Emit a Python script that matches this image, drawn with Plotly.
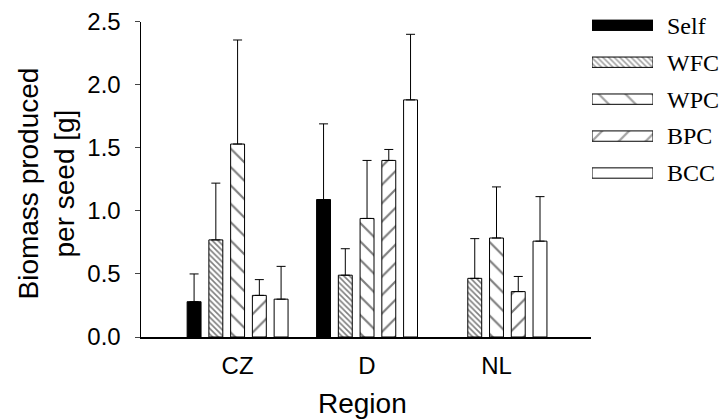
import plotly.graph_objects as go

# Biomass per seed by region and pollination treatment (mean + upper SE)
regions = ["CZ", "D", "NL"]
treatments = ["Self", "WFC", "WPC", "BPC", "BCC"]

means = {
    "Self": [0.28, 1.09, None],
    "WFC": [0.77, 0.49, 0.465],
    "WPC": [1.53, 0.94, 0.785],
    "BPC": [0.33, 1.40, 0.36],
    "BCC": [0.30, 1.88, 0.76],
}
errors = {
    "Self": [0.22, 0.60, None],
    "WFC": [0.45, 0.21, 0.315],
    "WPC": [0.825, 0.46, 0.405],
    "BPC": [0.125, 0.087, 0.12],
    "BCC": [0.26, 0.52, 0.353],
}

y_ticks = [0.0, 0.5, 1.0, 1.5, 2.0, 2.5]

# fill style per treatment: (fill colour, hatch shape, hatch size, hatch solidity)
styles = {
    "Self": ("black", "", 8, 0.2),
    "WFC": ("white", "\\", 4, 0.4),
    "WPC": ("white", "\\", 13, 0.17),
    "BPC": ("white", "/", 13, 0.17),
    "BCC": ("white", "", 8, 0.2),
}
legend_sizes = [8, 4, 19, 19, 8]
legend_solidity = [0.2, 0.4, 0.12, 0.12, 0.2]

W, H = 726, 419
AXIS_FONT = "Arial, Liberation Sans, sans-serif"
SERIF = "Times New Roman, Liberation Serif, serif"

fig = go.Figure()

for t in treatments:
    color, shape, size, solid = styles[t]
    err = [0 if e is None else e for e in errors[t]]
    fig.add_trace(go.Bar(
        x=regions,
        y=means[t],
        name=t,
        marker=dict(
            color=color,
            line=dict(color="black", width=1),
            pattern=dict(shape=shape, size=size, solidity=solid,
                         fgcolor="black", bgcolor=color),
        ),
        error_y=dict(type="data", array=err, arrayminus=[0] * len(err),
                     symmetric=False, color="black", thickness=1, width=4.5),
        showlegend=False,
        xaxis="x", yaxis="y",
    ))

# key drawn as a small horizontal bar panel with the same fills
fig.add_trace(go.Bar(
    y=treatments,
    x=[1] * len(treatments),
    orientation="h",
    width=0.28,
    marker=dict(
        color=[styles[t][0] for t in treatments],
        line=dict(color="black", width=1),
        pattern=dict(shape=[styles[t][1] for t in treatments],
                     size=legend_sizes, solidity=legend_solidity,
                     fgcolor="black",
                     bgcolor=[styles[t][0] for t in treatments]),
    ),
    showlegend=False,
    hoverinfo="skip",
    xaxis="x2", yaxis="y2",
))

fig.update_layout(
    width=W, height=H,
    margin=dict(l=0, r=0, t=0, b=0),
    paper_bgcolor="white",
    plot_bgcolor="white",
    barmode="group",
    bargap=0.16,
    bargroupgap=0.36,
    xaxis=dict(
        domain=[140.5 / W, 591 / W],
        type="category",
        range=[-0.75, 2.73],
        showline=True, linecolor="black", linewidth=2,
        ticks="", showgrid=False, zeroline=False,
        tickfont=dict(family=AXIS_FONT, size=24, color="black"),
        ticklabelstandoff=6,
        automargin=False,
        anchor="y",
    ),
    yaxis=dict(
        domain=[1 - 337 / H, 1 - 21.7 / H],
        range=[0, 2.5],
        tickvals=y_ticks,
        ticktext=[f"{v:.1f}" for v in y_ticks],
        showline=True, linecolor="black", linewidth=1,
        ticks="outside", ticklen=5, tickwidth=1, tickcolor="#444",
        showgrid=False, zeroline=False,
        tickfont=dict(family=AXIS_FONT, size=24, color="black"),
        ticklabelstandoff=9,
        automargin=False,
        anchor="x",
    ),
    xaxis2=dict(
        domain=[592 / W, 653 / W],
        range=[0, 1],
        visible=False,
        anchor="y2",
    ),
    yaxis2=dict(
        domain=[1 - 191.5 / H, 1 - 6.8 / H],
        type="category",
        range=[4.5, -0.5],
        side="right",
        anchor="x2",
        showline=False, ticks="", showgrid=False, zeroline=False,
        tickfont=dict(family=SERIF, size=24, color="black"),
        ticklabelstandoff=13,
        automargin=False,
    ),
    annotations=[
        dict(text="Biomass produced<br>per seed [g]", x=46 / W, y=1 - 183.5 / H,
             xref="paper", yref="paper", textangle=-90, showarrow=False,
             xanchor="center", yanchor="middle",
             font=dict(family=AXIS_FONT, size=28, color="black")),
        dict(text="Region", x=362 / W, y=1 - 403 / H,
             xref="paper", yref="paper", showarrow=False,
             xanchor="center", yanchor="middle",
             font=dict(family=AXIS_FONT, size=28, color="black")),
    ],
)

fig.write_html("out.html")
